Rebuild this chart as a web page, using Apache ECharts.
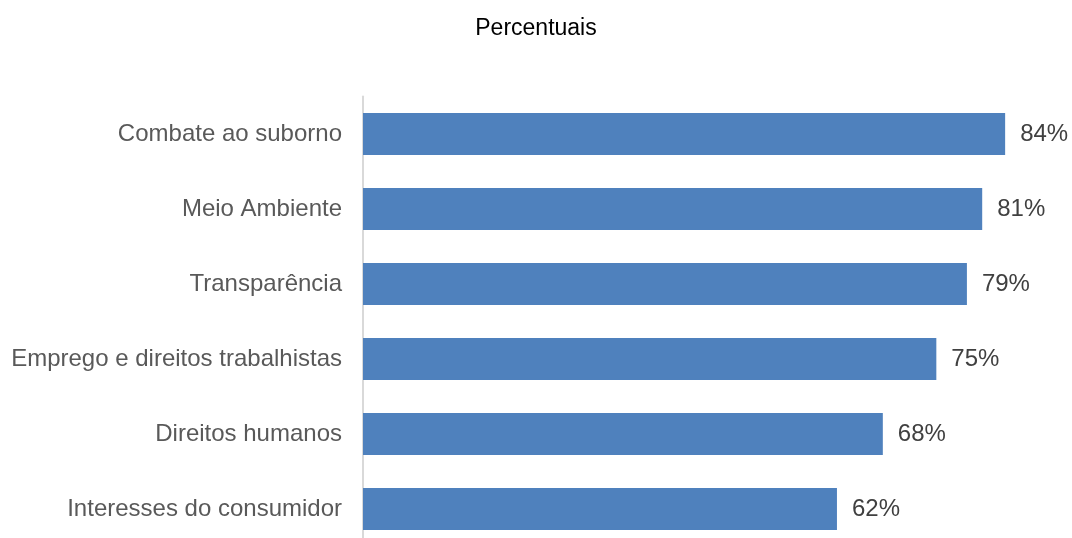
<!DOCTYPE html>
<html>
<head>
<meta charset="utf-8">
<script src="https://cdn.jsdelivr.net/npm/echarts@6/dist/echarts.min.js"></script>
<style>
  html, body { margin: 0; padding: 0; background: #ffffff; }
  #chart { width: 1072px; height: 538px; }
</style>
</head>
<body>
<div id="chart"></div>
<script>
// Categories listed bottom to top (category axis is drawn from the bottom up)
const categories = [
  'Interesses do consumidor',
  'Direitos humanos',
  'Emprego e direitos trabalhistas',
  'Transparência',
  'Meio Ambiente',
  'Combate ao suborno'
];
const values = [62, 68, 75, 79, 81, 84];
const titleText = 'Percentuais';

const chart = echarts.init(document.getElementById('chart'));
chart.setOption({
  backgroundColor: '#ffffff',
  animation: false,
  title: {
    text: titleText,
    left: 'center',
    top: 12,
    textStyle: {
      fontFamily: '"Liberation Sans Narrow", "Arial Narrow", "Liberation Sans", sans-serif',
      fontSize: 23,
      fontWeight: 'normal',
      color: '#000000'
    }
  },
  grid: {
    left: 363,
    top: 96.5,
    width: 688,
    height: 450,
    containLabel: false,
    outerBoundsMode: 'none'
  },
  xAxis: {
    type: 'value',
    min: 0,
    max: 90,
    show: false
  },
  yAxis: {
    type: 'category',
    data: categories,
    axisLine: { show: true, lineStyle: { color: '#d9d9d9', width: 2 } },
    axisTick: { show: false },
    axisLabel: {
      margin: 21,
      fontFamily: '"Liberation Sans", Arial, sans-serif',
      fontSize: 24,
      color: '#595959'
    },
    splitLine: { show: false }
  },
  series: [{
    type: 'bar',
    data: values,
    barWidth: 42,
    itemStyle: { color: '#4f81bd' },
    label: {
      show: true,
      position: 'right',
      distance: 15,
      formatter: p => p.value + '%',
      fontFamily: '"Liberation Sans", Arial, sans-serif',
      fontSize: 24,
      color: '#404040'
    }
  }]
});
</script>
</body>
</html>
